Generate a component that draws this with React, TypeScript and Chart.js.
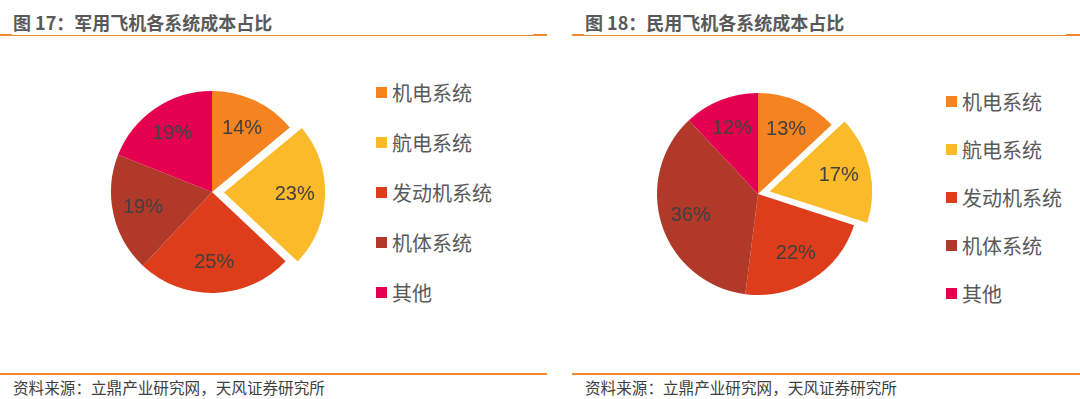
import React, { useEffect, useRef } from "react";
import { Chart, registerables } from "chart.js";

Chart.register(...registerables);

const categories = ["机电系统", "航电系统", "发动机系统", "机体系统", "其他"];
const militaryValues = [14, 23, 25, 19, 19];
const civilValues = [13, 17, 22, 36, 12];
const sliceColors = ["#F5831F", "#FBBA29", "#DD3D1A", "#B0392A", "#E4004F"];
const explodePx = [0, 12, 0, 0, 0];

const titleLeft = "图 17：军用飞机各系统成本占比";
const titleRight = "图 18：民用飞机各系统成本占比";
const sourceText = "资料来源：立鼎产业研究网，天风证券研究所";

const ORANGE = "#F08A2E";
const CJK = '"Noto Sans CJK SC", "Noto Sans", sans-serif';

// Chart.js 4 arcs translate by offset/4
const arcOffsets = explodePx.map((p) => p * 4);

const labelPlugin = {
  id: "sliceLabels",
  afterDatasetsDraw(chart: any) {
    const ctx = chart.ctx;
    const meta = chart.getDatasetMeta(0);
    const ds = chart.data.datasets[0];
    ctx.save();
    ctx.fillStyle = "#404040";
    ctx.font = '20px "Liberation Sans", Arial, sans-serif';
    ctx.textAlign = "center";
    ctx.textBaseline = "middle";
    meta.data.forEach((arc: any, i: number) => {
      const mid = (arc.startAngle + arc.endAngle) / 2;
      const off = explodePx[i] || 0;
      const d = off + arc.outerRadius * 0.7;
      const x = arc.x + Math.cos(mid) * d;
      const y = arc.y + Math.sin(mid) * d;
      ctx.fillText(ds.data[i] + "%", x, y);
    });
    ctx.restore();
  },
};

function Pie({ values, left, top }: { values: number[]; left: number; top: number }) {
  const ref = useRef<HTMLCanvasElement>(null);
  useEffect(() => {
    if (!ref.current) return;
    const chart = new Chart(ref.current, {
      type: "pie",
      data: {
        labels: categories,
        datasets: [
          {
            data: values,
            backgroundColor: sliceColors,
            borderWidth: 0,
            offset: arcOffsets,
          } as any,
        ],
      },
      options: {
        responsive: false,
        animation: false,
        radius: 101,
        layout: { padding: 0 },
        plugins: { legend: { display: false }, tooltip: { enabled: false } },
      } as any,
      plugins: [labelPlugin],
    });
    return () => chart.destroy();
  }, []);
  return (
    <canvas
      ref={ref}
      width={240}
      height={240}
      style={{ position: "absolute", left, top, width: 240, height: 240 }}
    />
  );
}

function Legend({ left, top, gap }: { left: number; top: number; gap: number }) {
  return (
    <>
      {categories.map((c, i) => (
        <div
          key={c}
          style={{
            position: "absolute",
            left,
            top: top + gap * i - 14,
            height: 28,
            display: "flex",
            alignItems: "center",
            fontFamily: CJK,
            fontSize: 20,
            color: "#595959",
            whiteSpace: "nowrap",
          }}
        >
          <span
            style={{
              display: "inline-block",
              width: 11,
              height: 11,
              background: sliceColors[i],
              marginRight: 5,
            }}
          />
          {c}
        </div>
      ))}
    </>
  );
}

function Panel({ x, w, title }: { x: number; w: number; title: string }) {
  return (
    <>
      <div
        style={{
          position: "absolute",
          left: x + 13,
          top: 9,
          fontFamily: CJK,
          fontWeight: 700,
          fontSize: 18,
          lineHeight: "26px",
          color: "#595959",
          whiteSpace: "nowrap",
        }}
      >
        {title}
      </div>
      <div style={{ position: "absolute", left: x, top: 35, width: w, height: 1, background: ORANGE }} />
      <div style={{ position: "absolute", left: x, top: 34, width: 12, height: 2, background: ORANGE }} />
      <div style={{ position: "absolute", left: x + w - 14, top: 34, width: 14, height: 2, background: ORANGE }} />
      <div style={{ position: "absolute", left: x, top: 373, width: w, height: 2, background: ORANGE }} />
      <div
        style={{
          position: "absolute",
          left: x + 13,
          top: 377,
          fontFamily: CJK,
          fontSize: 15.6,
          lineHeight: "20px",
          color: "#404040",
          whiteSpace: "nowrap",
        }}
      >
        {sourceText}
      </div>
    </>
  );
}

export default function App() {
  return (
    <div
      style={{
        position: "absolute",
        left: 0,
        top: 0,
        width: 1080,
        height: 399,
        background: "#ffffff",
        overflow: "hidden",
      }}
    >
      <Panel x={0} w={547} title={titleLeft} />
      <Panel x={572} w={508} title={titleRight} />
      <Pie values={militaryValues} left={92} top={72} />
      <Pie values={civilValues} left={638} top={74} />
      <Legend left={376} top={92} gap={50.2} />
      <Legend left={946} top={101} gap={48} />
    </div>
  );
}
